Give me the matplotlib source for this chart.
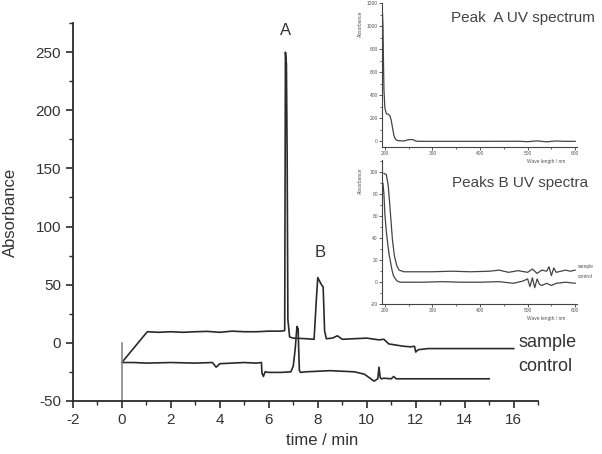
import numpy as np
import matplotlib.pyplot as plt
from matplotlib.ticker import MultipleLocator

plt.rcParams['font.family'] = ['Liberation Sans', 'DejaVu Sans']
plt.rcParams['axes.unicode_minus'] = False

# chromatogram, sample trace
t_sample = [0, 1.0, 1.05, 1.5, 2.0, 2.5, 3.0, 3.5, 4.0, 4.5, 5.0, 5.5, 6.0, 6.5, 6.65,
            6.68, 6.70, 6.72, 6.75, 6.78, 6.85, 7.0, 7.5, 7.85, 7.95, 8.0, 8.05, 8.15,
            8.22, 8.28, 8.35, 8.6, 8.8, 9.0, 9.5, 10.0, 10.5, 10.7, 10.9, 11.2, 11.5,
            11.8, 11.95, 12.0, 12.1, 12.5, 13, 14, 15, 16]
a_sample = [-17, 8.5, 9.5, 9, 9.5, 9, 9.5, 9.8, 9, 10, 9.5, 9.5, 10, 10, 10.5,
            250, 245, 240, 160, 20, 5, 4, 3.5, 3, 40, 56, 54, 50,
            48, 10, 3.5, 4, 6, 3, 3.5, 4, 2.5, 3, -1, -2, -3,
            -3.5, -3, -8, -6, -5, -5, -5, -5, -5]

# chromatogram, control trace
t_control = [0, 0.5, 1, 2, 3, 3.7, 3.85, 4.0, 4.5, 5, 5.5, 5.7, 5.72, 5.78, 5.85, 6.0,
             6.5, 6.9, 7.0, 7.08, 7.15, 7.2, 7.22, 7.25, 7.3, 7.5, 8, 8.5, 9, 9.5, 9.9,
             10.1, 10.3, 10.45, 10.5, 10.55, 10.6, 10.7, 11.0, 11.1, 11.2, 12, 13, 14, 15]
a_control = [-17, -17, -17.5, -17, -17.5, -17, -21, -18, -17.5, -17, -17.5, -17, -26, -29, -25, -25.5,
             -25.5, -25, -20, -5, 14, 12, -5, -24, -25.5, -25, -24.5, -24, -24.5, -25, -27,
             -30, -33, -31, -21, -30, -31, -30.5, -31, -29, -31, -31, -31, -31, -31]

# peak A UV spectrum
wl_a = [195, 196, 197, 198, 200, 203, 207, 210, 213, 216, 219, 222, 225, 230, 240, 250,
        260, 265, 280, 320, 400, 480, 500, 520, 540, 560, 580, 600]
abs_a = [1110, 1000, 700, 450, 290, 240, 235, 225, 190, 120, 50, 20, 10, 5, 3, 15,
         14, 2, 0, 0, 0, 1, -3, 4, -4, 3, 0, 0]

# peaks B UV spectra
wl_bs = [198, 203, 207, 210, 213, 216, 220, 225, 230, 240, 260, 300, 340, 380, 420, 440,
         460, 480, 500, 510, 520, 530, 540, 545, 550, 555, 560, 570, 580, 590, 600]
abs_bs = [99, 98, 88, 72, 55, 38, 24, 15, 11, 9.5, 9.5, 9.5, 10, 9.5, 10, 11,
          9, 10.5, 9, 12, 8, 11, 10, 14, 6, 13, 9, 10, 11, 10, 11]
wl_bc = [196, 198, 200, 203, 206, 209, 212, 215, 218, 222, 226, 232, 240, 280, 320, 360,
         400, 440, 470, 490, 500, 505, 510, 515, 520, 525, 530, 540, 550, 560, 580, 600]
abs_bc = [90, 80, 62, 46, 35, 25, 18, 11, 6, 3, 1, 0, 0, 0, 0.5, 0,
          0, 0.5, -1, 1, 3, -4, 4, -5, 3, -2, -3, -1, -3, -1, 0, -1]

ink = '#2a2a2a'
txt = '#333333'

fig = plt.figure(figsize=(6.02, 4.54), dpi=100)
ax = fig.add_axes([0.121, 0.117, 0.773, 0.832])
ax.plot(t_sample, a_sample, color=ink, lw=1.2)
ax.plot(t_control, a_control, color=ink, lw=1.2)
ax.plot([0, 0], [-50, 0], color='#888888', lw=1.2)
ax.set_xlim(-2, 17)
ax.set_ylim(-50, 275)
for s in ['top', 'right']:
    ax.spines[s].set_visible(False)
for s in ['left', 'bottom']:
    ax.spines[s].set_linewidth(1.3)
    ax.spines[s].set_color(ink)
ax.xaxis.set_major_locator(MultipleLocator(2))
ax.xaxis.set_minor_locator(MultipleLocator(1))
ax.yaxis.set_major_locator(MultipleLocator(50))
ax.yaxis.set_minor_locator(MultipleLocator(25))
ax.tick_params(which='major', direction='out', length=5, width=1.2, labelsize=11,
               colors=ink, labelcolor=txt)
ax.tick_params(which='minor', direction='out', length=3, width=1.0, colors=ink)
ax.set_xlabel('time / min', fontsize=12, color=txt)
ax.set_ylabel('Absorbance', fontsize=12, color=txt)
ax.xaxis.set_label_coords(0.535, -0.085)
ax.yaxis.set_label_coords(-0.118, 0.5)
ax.text(6.7, 269, 'A', fontsize=12, color=txt, ha='center', va='center')
ax.text(8.1, 78, 'B', fontsize=12, color=txt, ha='center', va='center')
ax.text(16.2, 0, 'sample', fontsize=13, color=txt, ha='left', va='center')
ax.text(16.2, -20, 'control', fontsize=13, color=txt, ha='left', va='center')


def inset(rect, ymaj, ymin):
    a = fig.add_axes(rect)
    a.patch.set_facecolor('none')
    for s in ['top', 'right']:
        a.spines[s].set_visible(False)
    for s in ['left', 'bottom']:
        a.spines[s].set_linewidth(0.8)
        a.spines[s].set_color('#444444')
    a.xaxis.set_major_locator(MultipleLocator(100))
    a.xaxis.set_minor_locator(MultipleLocator(50))
    a.yaxis.set_major_locator(MultipleLocator(ymaj))
    a.yaxis.set_minor_locator(MultipleLocator(ymin))
    a.tick_params(which='major', direction='out', length=2, width=0.7, labelsize=3.5,
                  colors='#555555', pad=1)
    a.tick_params(which='minor', direction='out', length=1.2, width=0.6, colors='#555555')
    a.set_xlabel('Wave length / nm', fontsize=3.5, color='#555555')
    a.xaxis.set_label_coords(0.84, -0.085)
    a.set_ylabel('Absorbance', fontsize=3.5, color='#555555')
    a.yaxis.set_label_coords(-0.1, 0.86)
    return a


ia = inset([0.6346, 0.676, 0.324, 0.317], 200, 100)
ia.plot(wl_a, abs_a, color='#444444', lw=0.9)
ia.set_xlim(194, 604)
ia.set_ylim(-50, 1200)
ia.text(1.09, 0.90, 'Peak  A UV spectrum', transform=ia.transAxes, fontsize=11,
        color='#444444', ha='right', va='center')

ib = inset([0.6346, 0.330, 0.324, 0.317], 20, 10)
ib.plot(wl_bs, abs_bs, color='#444444', lw=0.9)
ib.plot(wl_bc, abs_bc, color='#444444', lw=0.9)
ib.set_xlim(194, 604)
ib.set_ylim(-20, 111)
ib.text(1.055, 0.84, 'Peaks B UV spectra', transform=ib.transAxes, fontsize=11,
        color='#444444', ha='right', va='center')
ib.text(605, 14, 'sample', fontsize=3.5, color='#555555', ha='left', va='center')
ib.text(605, 5, 'control', fontsize=3.5, color='#555555', ha='left', va='center')

fig.savefig('out.png', dpi=100)
